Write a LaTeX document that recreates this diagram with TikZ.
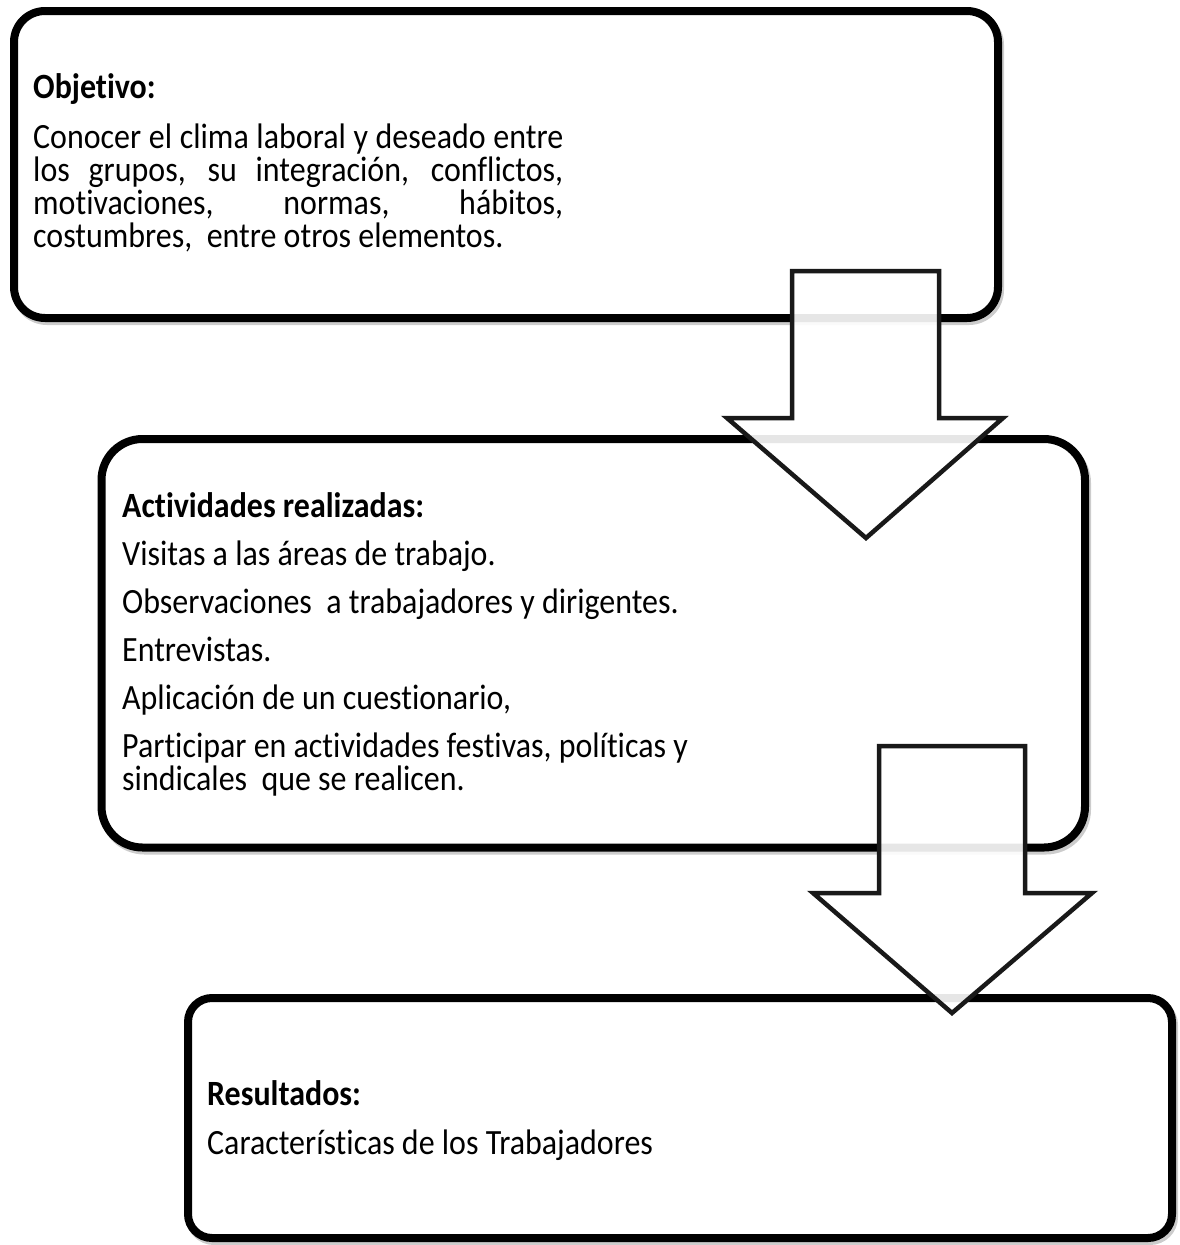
\documentclass[tikz,border=0pt]{standalone}
\usepackage{fontspec}
\setmainfont{Carlito}[FakeStretch=0.9, Ligatures=NoCommon]

\tikzset{
  caja/.style={draw, line width=8pt, fill=white, inner sep=0pt,
    preaction={draw=black!20, line width=8pt, transform canvas={xshift=2pt, yshift=-3pt}}},
  texto/.style={anchor=base west, inner sep=0pt, font=\fontsize{35.5}{33}\selectfont},
  flecha/.style={draw=black!90, line width=4.5pt, fill=white, fill opacity=0.9, line join=miter}
}

\begin{document}
\begin{tikzpicture}[x=1pt, y=-1pt]
            \useasboundingbox (0,0) rectangle (1180,1245);
            % cajas
            \node[caja, rounded corners=31pt, minimum width=984pt, minimum height=307pt] (objetivo) at (506,164.5) {};
            \node[caja, rounded corners=41pt, minimum width=983.5pt, minimum height=408.5pt] (actividades) at (593.25,643.25) {};
            \node[caja, rounded corners=24pt, minimum width=984pt, minimum height=240pt] (resultados) at (680,1118) {};
            % textos
            \node[texto, text width=530pt, align=justify] (tobjetivo) at (33,98) {\setlength{\parskip}{17pt}\textbf{Objetivo:}\par
              Conocer el clima laboral y deseado entre\linebreak los grupos, su integración, conflictos,\linebreak motivaciones, normas, hábitos,\linebreak costumbres,\ \ entre otros elementos.};
            \node[texto, text width=620pt, align=flush left] (tactividades) at (122,517) {\spaceskip=0pt\xspaceskip=0pt\setlength{\parskip}{15pt}\textbf{Actividades realizadas:}\par
              Visitas a las áreas de trabajo.\par
              Observaciones\ \ a trabajadores y dirigentes.\par
              Entrevistas.\par
              Aplicación de un cuestionario,\par
              Participar en actividades festivas, políticas y\\ sindicales\ \ que se realicen.};
            \node[texto, text width=600pt, align=flush left] (tresultados) at (207,1105) {\spaceskip=0pt\xspaceskip=0pt\setlength{\parskip}{16pt}\textbf{Resultados:}\par
              Características de los Trabajadores};
            % flechas
            \draw[flecha] (792,271) -- (939,271) -- (939,418) -- (1003,418) -- (866,538) -- (727,418) -- (792,418) -- cycle;
            \draw[flecha] (879,746) -- (1025,746) -- (1025,893) -- (1092,893) -- (952,1013) -- (813,893) -- (879,893) -- cycle;
        \end{tikzpicture}
\end{document}
